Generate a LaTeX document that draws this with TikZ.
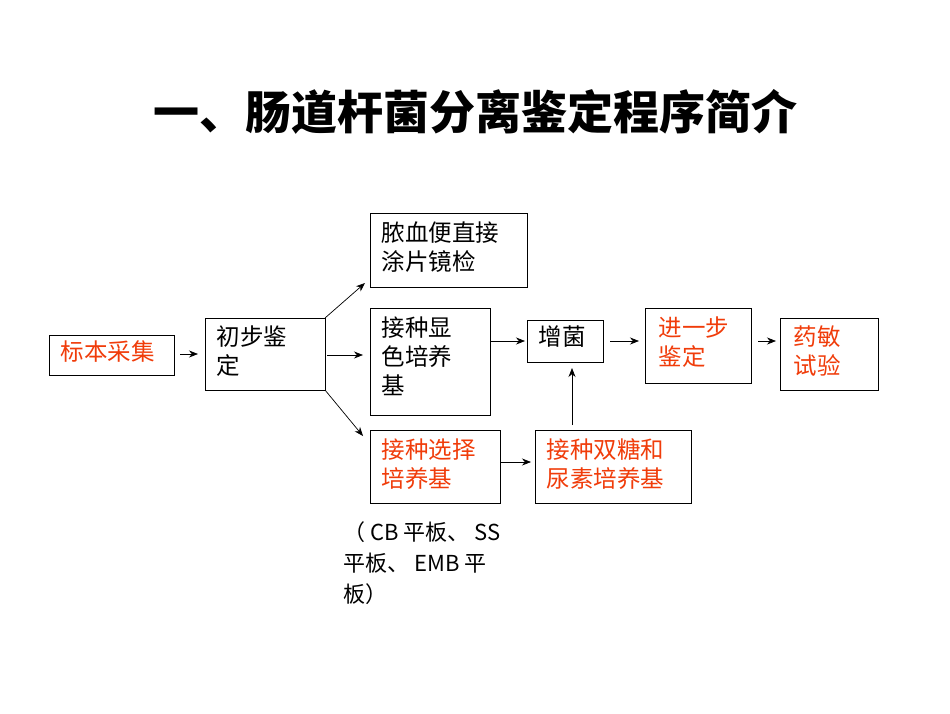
\documentclass[tikz,border=0pt]{standalone}
\usepackage{fontspec}
\setmainfont{Liberation Sans}
\newfontfamily\cjk{Noto Sans CJK SC}
\usetikzlibrary{arrows.meta}
\definecolor{rd}{RGB}{240,60,10}
\begin{document}
\begin{tikzpicture}[x=1pt,y=-1pt,
  bx/.style={draw,line width=0.8pt,anchor=north west,inner sep=0pt},
  tx/.style={anchor=north west,align=left,font=\cjk\fontsize{23.5}{29}\selectfont},
  ar/.style={-{Stealth[length=9pt,width=7pt]},line width=0.7pt}]
\useasboundingbox (0,0) rectangle (950,713);
\node[font=\cjk\bfseries\fontsize{46}{52}\selectfont] (title) at (475,112) {一、肠道杆菌分离鉴定程序简介};
% boxes
\node[bx,minimum width=125pt,minimum height=40pt] (a) at (49,335) {};
\node[tx,text=rd] at (57,337) {标本采集};
\node[bx,minimum width=120pt,minimum height=72pt] (b) at (205,318) {};
\node[tx] at (213,322) {初步鉴\\定};
\node[bx,minimum width=157pt,minimum height=74pt] (c) at (370,213) {};
\node[tx] at (378,218) {脓血便直接\\涂片镜检};
\node[bx,minimum width=120pt,minimum height=107pt] (d) at (370,308) {};
\node[tx] at (378,313) {接种显\\色培养\\基};
\node[bx,minimum width=130pt,minimum height=73pt] (e) at (370,430) {};
\node[tx,text=rd] at (378,435) {接种选择\\培养基};
\node[bx,minimum width=76pt,minimum height=42pt] (f) at (527,320) {};
\node[tx] at (535,322) {增菌};
\node[bx,minimum width=156pt,minimum height=73pt] (g) at (535,430) {};
\node[tx,text=rd] at (543,435) {接种双糖和\\尿素培养基};
\node[bx,minimum width=106pt,minimum height=75pt] (h) at (645,308) {};
\node[tx,text=rd] at (655,313) {进一步\\鉴定};
\node[bx,minimum width=98pt,minimum height=72pt] (i) at (780,318) {};
\node[tx,text=rd] at (790,322) {药敏\\试验};
\node[tx,font=\cjk\fontsize{22}{31}\selectfont] (note) at (340,518) {（ CB 平板、 SS\\平板、 EMB 平\\板）};
% connectors
\coordinate (b1) at (325,318); \coordinate (b3) at (325,390);
\draw[ar] (180,354) -- (198,354);
\draw[ar] (b1) -- (365,283);
\draw[ar] (327,355) -- (363,355);
\draw[ar] (b3) -- (363,436);
\draw[ar] (490,341) -- (525,341);
\draw[ar] (500,462) -- (531,462);
\draw[ar] (572,425) -- (572,368);
\draw[ar] (610,341) -- (639,341);
\draw[ar] (758,341) -- (776,341);
\end{tikzpicture}
\end{document}
